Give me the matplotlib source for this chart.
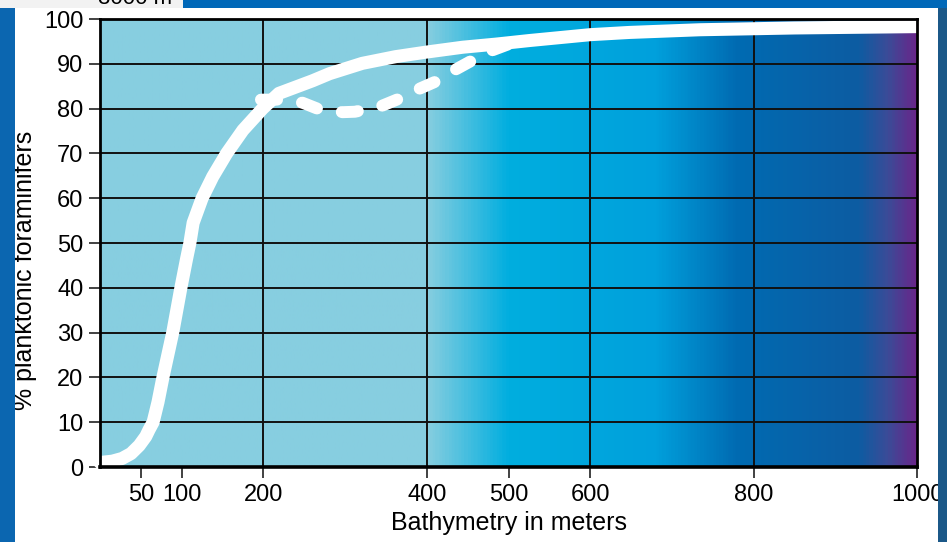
import matplotlib.pyplot as plt
from matplotlib.colors import LinearSegmentedColormap
from matplotlib.patches import Rectangle
import numpy as np

plt.rcParams['font.family'] = ['Liberation Sans', 'DejaVu Sans']

# solid curve: % planktonic foraminifers vs depth
depth_solid = [0, 15, 27, 38, 48, 56, 60, 65, 71, 77, 89, 99, 106, 110, 114,
               125, 138, 155, 175, 199, 219, 260, 281, 321, 362, 399, 444,
               485, 526, 600, 648, 734, 850, 1000]
pct_solid = [1, 1.3, 1.9, 3, 4.8, 6.8, 8.3, 10, 14.5, 20, 30, 40, 46.5, 50,
             54.5, 60, 64.8, 70, 75.2, 80, 83.4, 86.2, 87.8, 90.1, 91.6, 92.6,
             93.7, 94.4, 95.2, 96.5, 97.0, 97.6, 98.0, 98.3]

# dashed branch
depth_dash = [197, 222, 248, 266, 297, 312, 342, 366, 388, 413, 436, 452,
              480, 499]
pct_dash = [82, 82, 81.3, 80, 79.2, 79.3, 80.4, 82.2, 84.2, 86.2, 88.8, 90.4,
            93, 94.3]

x_ticks = [50, 100, 200, 400, 500, 600, 800, 1000]
y_ticks = list(range(0, 101, 10))
x_grid = [200, 400, 600, 800]

W, H = 947, 542
fig = plt.figure(figsize=(W / 100, H / 100), dpi=100, facecolor='white')

# slide background bits
fig.patches.append(Rectangle((0, 0), 15 / W, 1 - 8 / H, transform=fig.transFigure,
                             facecolor='#0B66B0', edgecolor='none', zorder=0))
fig.patches.append(Rectangle((938 / W, 0), 9 / W, 1, transform=fig.transFigure,
                             facecolor='#1B5888', edgecolor='none', zorder=0))
fig.patches.append(Rectangle((0, 1 - 8 / H), 1, 8 / H, transform=fig.transFigure,
                             facecolor='#0068B8', edgecolor='none', zorder=0))
fig.patches.append(Rectangle((0, 1 - 8 / H), 183 / W, 8 / H, transform=fig.transFigure,
                             facecolor='#F2F2F2', edgecolor='none', zorder=1))
# partly hidden label from the slide above
fig.text(98 / W, 1 + 2 / H, '3000 m', fontsize=16, va='center', ha='left',
         color='black', zorder=2)

ax = fig.add_axes([100 / W, (H - 467) / H, 817 / W, 448 / H])

# background gradient
cmap = LinearSegmentedColormap.from_list('sea', [
    (0.0, '#87CEE0'), (0.40, '#87CEE0'), (0.50, '#00AEDF'), (0.68, '#00A0DC'),
    (0.78, '#006BB2'), (0.93, '#0D5CA2'), (0.965, '#3A4C98'), (1.0, '#68278A')])
ax.imshow(np.linspace(0, 1, 600).reshape(1, -1), extent=[0, 1000, 0, 100],
          aspect='auto', cmap=cmap, zorder=0)

for g in x_grid:
    ax.axvline(g, color='#111111', lw=1.4, zorder=1)
for g in y_ticks[1:-1]:
    ax.axhline(g, color='#111111', lw=1.4, zorder=1)

ax.plot(depth_dash, pct_dash, color='white', lw=8.6, dashes=(1.35, 2.1),
        dash_capstyle='round', dash_joinstyle='round', zorder=3)
ax.plot(depth_solid, pct_solid, color='white', lw=9.4, solid_capstyle='round',
        solid_joinstyle='round', zorder=4, clip_on=False)

ax.set_xlim(0, 1000)
ax.set_ylim(0, 100)
ax.set_xticks(x_ticks)
ax.set_yticks(y_ticks)
ax.tick_params(axis='both', direction='out', length=8, width=1.3,
               color='#333333', labelsize=17, pad=4)
for s in ax.spines.values():
    s.set_linewidth(2)
    s.set_color('black')
    s.set_zorder(5)
ax.spines['bottom'].set_linewidth(2.6)

ax.set_xlabel('Bathymetry in meters', fontsize=18, labelpad=4)
ax.set_ylabel('% planktonic foraminifers', fontsize=18, labelpad=5, y=0.44)

fig.savefig('out.png', dpi=100, facecolor='white')
